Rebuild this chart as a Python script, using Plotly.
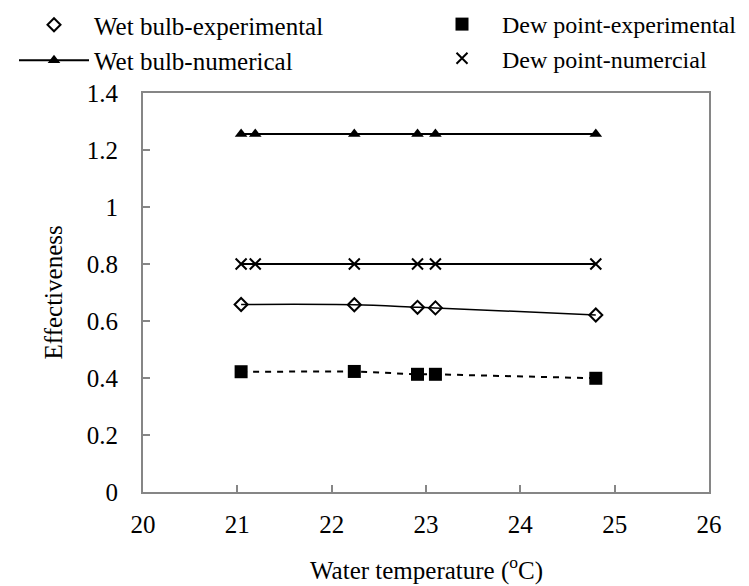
import plotly.graph_objects as go

# Data
exp_temp = [21.04, 22.24, 22.91, 23.10, 24.80]
wet_bulb_exp = [0.658, 0.657, 0.648, 0.646, 0.621]
dew_point_exp = [0.422, 0.423, 0.413, 0.413, 0.399]

num_temp = [21.04, 21.19, 22.24, 22.91, 23.10, 24.80]
wet_bulb_num = [1.256, 1.256, 1.256, 1.256, 1.256, 1.256]
dew_point_num = [0.800, 0.800, 0.800, 0.800, 0.800, 0.800]

x_ticks = [20, 21, 22, 23, 24, 25, 26]
y_ticks = [0, 0.2, 0.4, 0.6, 0.8, 1.0, 1.2, 1.4]
y_tick_text = ["0", "0.2", "0.4", "0.6", "0.8", "1", "1.2", "1.4"]

FONT = "Liberation Serif"
GRAY = "#868686"

fig = go.Figure()

# connecting lines (not in legend)
fig.add_trace(go.Scatter(x=exp_temp, y=wet_bulb_exp, mode="lines",
                         line=dict(color="black", width=1.5, shape="spline"),
                         showlegend=False, hoverinfo="skip"))
fig.add_trace(go.Scatter(x=exp_temp, y=dew_point_exp, mode="lines",
                         line=dict(color="black", width=2, dash="6px,6px"),
                         showlegend=False, hoverinfo="skip"))
fig.add_trace(go.Scatter(x=num_temp, y=dew_point_num, mode="lines",
                         line=dict(color="black", width=2),
                         showlegend=False, hoverinfo="skip"))

# legend column 1
fig.add_trace(go.Scatter(x=exp_temp, y=wet_bulb_exp, mode="markers",
                         name="Wet bulb-experimental", legend="legend",
                         marker=dict(symbol="diamond-open", size=10, color="black",
                                     line=dict(width=2, color="black"))))
fig.add_trace(go.Scatter(x=num_temp, y=wet_bulb_num, mode="lines+markers",
                         name="Wet bulb-numerical", legend="legend",
                         line=dict(color="black", width=2),
                         marker=dict(symbol="triangle-up", size=11, color="black")))
# legend column 2
fig.add_trace(go.Scatter(x=exp_temp, y=dew_point_exp, mode="markers",
                         name="Dew point-experimental", legend="legend2",
                         marker=dict(symbol="square", size=13, color="black")))
fig.add_trace(go.Scatter(x=num_temp, y=dew_point_num, mode="markers",
                         name="Dew point-numercial", legend="legend2",
                         marker=dict(symbol="x-thin-open", size=11, color="black",
                                     line=dict(width=2, color="black"))))

W, H = 749, 586
ml, mr, mt, mb = 135, 48, 85, 102
pw = W - ml - mr
ph = H - mt - mb

def px_x(p):
    return (p - ml) / pw

def px_y(p):
    return (H - mb - p) / ph

legend_common = dict(itemwidth=70, bgcolor="rgba(0,0,0,0)", borderwidth=0,
                     xanchor="left", yanchor="top", orientation="v",
                     traceorder="normal")

fig.update_layout(
    width=W, height=H,
    margin=dict(l=ml, r=mr, t=mt, b=mb, autoexpand=False),
    paper_bgcolor="white", plot_bgcolor="white",
    font=dict(family=FONT, size=25, color="black"),
    legend=dict(x=px_x(6), y=px_y(-6),
                font=dict(family=FONT, size=25, color="black"), **legend_common),
    legend2=dict(x=px_x(414), y=px_y(-6),
                 font=dict(family=FONT, size=24, color="black"), **legend_common),
    xaxis=dict(range=[20, 26], tickvals=x_ticks, ticks="inside", ticklen=7,
               tickcolor=GRAY, tickwidth=1.5, showline=True, linecolor=GRAY,
               linewidth=2, mirror=True, showgrid=False, zeroline=False,
               tickfont=dict(family=FONT, size=25, color="black"),
               ticklabelstandoff=9),
    yaxis=dict(range=[0, 1.4], tickvals=y_ticks, ticktext=y_tick_text,
               ticks="inside", ticklen=7, tickcolor=GRAY, tickwidth=1.5,
               showline=True, linecolor=GRAY, linewidth=2, mirror=True,
               showgrid=False, zeroline=False,
               tickfont=dict(family=FONT, size=25, color="black"),
               ticklabelstandoff=18),
    annotations=[
        dict(text="Water temperature (<sup>o</sup>C)", xref="paper", yref="paper",
             x=0.5, y=px_y(560), xanchor="center", yanchor="middle",
             showarrow=False, font=dict(family=FONT, size=25, color="black")),
        dict(text="Effectiveness", xref="paper", yref="paper",
             x=px_x(45), y=0.5, xanchor="center", yanchor="middle", textangle=-90,
             showarrow=False, font=dict(family=FONT, size=25, color="black")),
    ],
)

fig.write_html("out.html")
